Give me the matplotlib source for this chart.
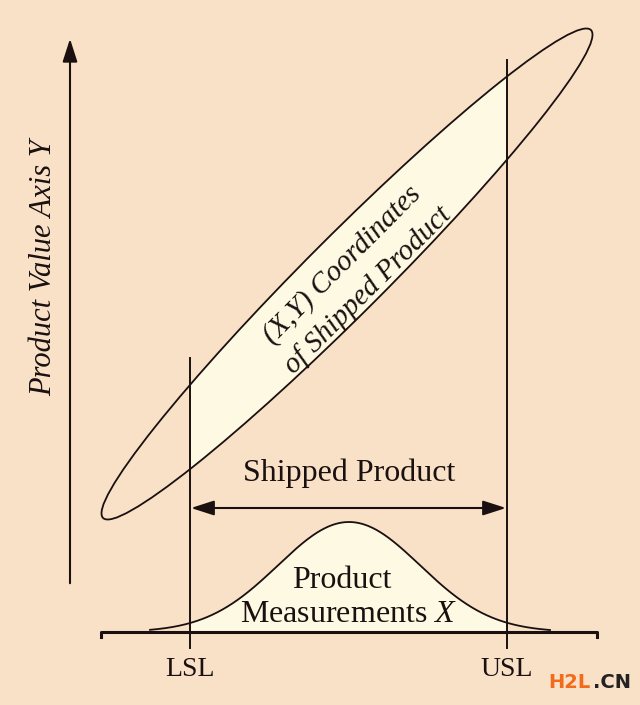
import numpy as np
import matplotlib.pyplot as plt
from matplotlib.patches import Ellipse, Rectangle

plt.rcParams['font.family'] = 'Liberation Serif'
plt.rcParams['mathtext.fontset'] = 'custom'
plt.rcParams['mathtext.rm'] = 'Liberation Serif'
plt.rcParams['mathtext.it'] = 'Liberation Serif:italic'

# spec limits and distribution (pixel units of the drawing)
LSL, USL = 190, 507
mean, sigma = 349, 71
base_y, peak_h = 632, 110
# ellipse of (X,Y) coordinates
ell_center = (347, 274)
ell_len, ell_wid, ell_angle = 690, 78, -45

bg = '#f9e1c8'
cream = '#fdf9e3'
ink = '#1a1010'

fig = plt.figure(figsize=(6.4, 7.05), dpi=100, facecolor=bg)
ax = fig.add_axes([0, 0, 1, 1])
ax.set_xlim(0, 640)
ax.set_ylim(705, 0)
ax.axis('off')
ax.set_facecolor(bg)

# ellipse, filled only between the limits
clip = Rectangle((LSL, 0), USL - LSL, 705, transform=ax.transData)
fill = Ellipse(ell_center, ell_len, ell_wid, angle=ell_angle, facecolor=cream, edgecolor='none')
ax.add_patch(fill)
fill.set_clip_path(clip)
ax.add_patch(Ellipse(ell_center, ell_len, ell_wid, angle=ell_angle, facecolor='none',
                     edgecolor=ink, lw=1.3))

# bell curve
x = np.linspace(150, 550, 400)
y = base_y - peak_h * np.exp(-0.5 * ((x - mean) / sigma) ** 2)
inside = (x >= LSL) & (x <= USL)
ax.fill_between(x[inside], y[inside], base_y, color=cream, lw=0)
ax.plot(x, y, color=ink, lw=1.3)

# baseline with end ticks
ax.plot([101, 101, 597, 597], [637, base_y, base_y, 637], color=ink, lw=2.2)

# spec lines
ax.plot([LSL, LSL], [358, 648], color=ink, lw=1.4)
ax.plot([USL, USL], [60, 648], color=ink, lw=1.4)

# y axis arrow
ax.annotate('', xy=(70, 36), xytext=(70, 586),
            arrowprops=dict(arrowstyle='-|>,head_length=1.4,head_width=0.45', color=ink, lw=1.5))
ax.text(44, 268, 'Product Value Axis Y', rotation=90, style='italic', fontsize=22,
        ha='center', va='center', color=ink)

# shipped product arrow
ax.annotate('', xy=(LSL + 1, 508), xytext=(USL - 1, 508),
            arrowprops=dict(arrowstyle='<|-|>,head_length=1.4,head_width=0.45', color=ink, lw=1.5,
                            shrinkA=0, shrinkB=0))
ax.text(349, 473, 'Shipped Product', fontsize=23, ha='center', va='center', color=ink)

ax.text(342, 580, 'Product', fontsize=23, ha='center', va='center', color=ink)
ax.text(349, 614, 'Measurements $X$', fontsize=23, ha='center', va='center', color=ink)

ax.text(342, 265, '(X,Y) Coordinates', rotation=45, style='italic', fontsize=21,
        ha='center', va='center', color=ink, rotation_mode='anchor')
ax.text(368, 290, 'of Shipped Product', rotation=45, style='italic', fontsize=21,
        ha='center', va='center', color=ink, rotation_mode='anchor')

ax.text(LSL, 670, 'LSL', fontsize=20, ha='center', va='center', color=ink)
ax.text(USL, 670, 'USL', fontsize=20, ha='center', va='center', color=ink)

# watermark
ax.text(591, 682, 'H2L', fontsize=14, fontweight='bold', family='DejaVu Sans',
        color='#f26b1d', ha='right', va='center')
ax.text(593, 682, '.CN', fontsize=14, fontweight='bold', family='DejaVu Sans',
        color='#222222', ha='left', va='center')

fig.savefig('out.png', dpi=100, facecolor=bg)
